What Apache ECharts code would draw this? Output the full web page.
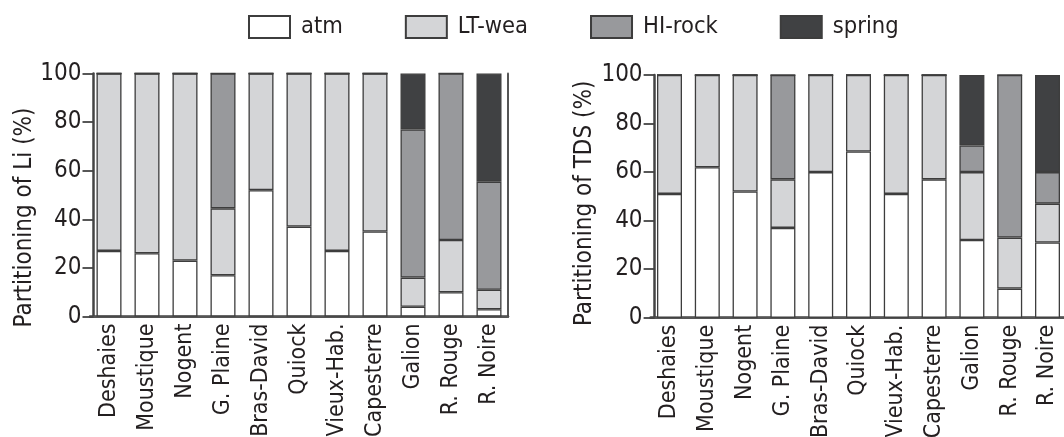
<!DOCTYPE html>
<html>
<head>
<meta charset="utf-8">
<style>
  html, body { margin: 0; padding: 0; background: #fff; }
  #chart { width: 1064px; height: 437px; }
</style>
<script src="https://cdn.jsdelivr.net/npm/echarts@6/dist/echarts.min.js"></script>
</head>
<body>
<div id="chart"></div>
<script>
// 站点
var categories = ['Deshaies', 'Moustique', 'Nogent', 'G. Plaine', 'Bras-David', 'Quiock',
  'Vieux-Hab.', 'Capesterre', 'Galion', 'R. Rouge', 'R. Noire'];
var seriesNames = ['atm', 'LT-wea', 'HI-rock', 'spring'];

// Li 分配 (%)
var liAtm    = [27, 26, 23, 17, 52, 37, 27, 35, 4, 10, 3];
var liLtWea  = [73, 74, 77, 27.5, 48, 63, 73, 65, 12, 21.5, 8];
var liHiRock = [0, 0, 0, 55.5, 0, 0, 0, 0, 61, 68.5, 44.5];
var liSpring = [0, 0, 0, 0, 0, 0, 0, 0, 23, 0, 44.5];

// TDS 分配 (%)
var tdsAtm    = [51, 62, 52, 37, 60, 68.5, 51, 57, 32, 12, 31];
var tdsLtWea  = [49, 38, 48, 20, 40, 31.5, 49, 43, 28, 21, 16];
var tdsHiRock = [0, 0, 0, 43, 0, 0, 0, 0, 11, 67, 13];
var tdsSpring = [0, 0, 0, 0, 0, 0, 0, 0, 29, 0, 40];

var colors = ['#ffffff', '#d4d5d7', '#98999c', '#404143'];
var font = "'DejaVu Sans Condensed', 'DejaVu Sans'";
var ink = '#231f20';
var lineColor = '#444';

function makeSeries(lists, axisIdx, stack) {
  return lists.map(function(vals, i) {
    return {
      name: seriesNames[i],
      type: 'bar',
      stack: stack,
      xAxisIndex: axisIdx,
      yAxisIndex: axisIdx,
      barWidth: 25,
      data: vals,
      itemStyle: { color: colors[i], borderColor: '#3d3d3d', borderWidth: 1.3 },
      emphasis: { disabled: true }
    };
  });
}

function bottomAxis(grid) {
  return {
    type: 'category', gridIndex: grid, data: categories,
    axisLine: { lineStyle: { color: lineColor, width: 2.5 } },
    axisTick: { show: false },
    axisLabel: { rotate: 90, margin: 7, fontFamily: font, fontSize: 23, color: ink, interval: 0 }
  };
}
function topAxis(grid) {
  return {
    type: 'category', gridIndex: grid, data: categories, position: 'top',
    axisLine: { lineStyle: { color: '#555', width: 1.8 } },
    axisTick: { show: false }, axisLabel: { show: false }
  };
}
function leftAxis(grid, name, off, gap, shift) {
  return {
    type: 'value', gridIndex: grid, min: 0, max: 100, interval: 20,
    offset: off,
    name: name, nameLocation: 'middle', nameGap: gap, nameRotate: 90,
    nameTextStyle: { fontFamily: font, fontSize: 24, color: ink, padding: [0, shift, 0, 0] },
    axisLine: { show: true, lineStyle: { color: lineColor, width: 2.5 } },
    axisTick: { show: true, length: 11, lineStyle: { color: lineColor, width: 1.8 } },
    axisLabel: { margin: 12, fontFamily: font, fontSize: 24, color: ink },
    splitLine: { show: false }
  };
}
function rightAxis(grid) {
  return {
    type: 'value', gridIndex: grid, min: 0, max: 100, position: 'right',
    axisLine: { show: true, lineStyle: { color: '#555', width: 2 } },
    axisTick: { show: false }, axisLabel: { show: false }, splitLine: { show: false }
  };
}

var myChart = echarts.init(document.getElementById('chart'));
var option = {
  animation: false,
  legend: {
    data: seriesNames,
    left: 243, top: 10,
    itemWidth: 41, itemHeight: 22, itemGap: 62,
    icon: 'rect',
    textStyle: { fontFamily: font, fontSize: 23.5, color: ink, padding: [0, 0, 0, 6] }
  },
  grid: [
    { left: 90, top: 73.5, width: 418, bottom: 120.5, outerBoundsMode: 'none' },
    { left: 650.6, top: 75, width: 415.8, bottom: 119.3, outerBoundsMode: 'none' }
  ],
  xAxis: [bottomAxis(0), topAxis(0), bottomAxis(1), topAxis(1)],
  yAxis: [
    leftAxis(0, 'Partitioning of Li (%)', -3.5, 55, 45),
    rightAxis(0),
    leftAxis(1, 'Partitioning of TDS (%)', -4, 58, 14),
    rightAxis(1)
  ],
  series: makeSeries([liAtm, liLtWea, liHiRock, liSpring], 0, 'li')
    .concat(makeSeries([tdsAtm, tdsLtWea, tdsHiRock, tdsSpring], 2, 'tds'))
};
myChart.setOption(option);
</script>
</body>
</html>
